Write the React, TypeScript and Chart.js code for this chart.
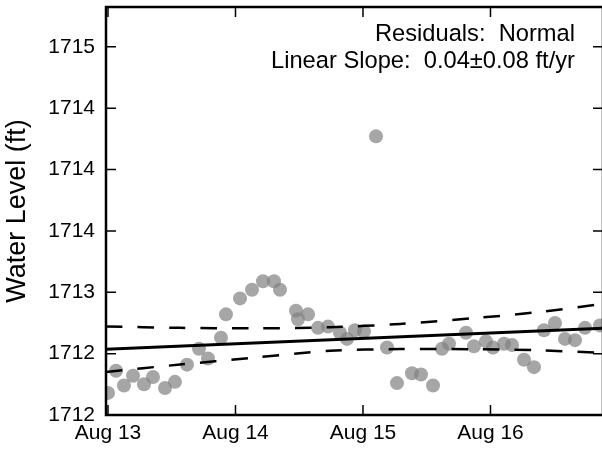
import React, { useEffect, useRef } from "react";
import { Chart, registerables } from "chart.js";

Chart.register(...registerables);

// Hours since Aug 13 00:00
const obsHours = [
  0.0, 1.51, 3.01, 4.71, 6.78, 8.47, 10.73, 12.61, 14.87, 17.13, 18.82, 21.27, 22.21,
  24.85, 27.11, 29.18, 31.25, 32.38, 35.39, 35.76, 37.65, 39.53, 41.41, 43.67, 44.99,
  46.49, 48.19, 50.45, 52.52, 54.4, 57.22, 58.92, 61.18, 62.87, 64.19, 67.39, 68.89,
  71.15, 72.47, 74.54, 76.05, 78.31, 80.19, 82.07, 84.14, 86.02, 87.91, 89.79, 92.61,
];
const obsLevels = [
  1712.18, 1712.36, 1712.24, 1712.32, 1712.25, 1712.31, 1712.22, 1712.27, 1712.41, 1712.54,
  1712.46, 1712.63, 1712.82, 1712.95, 1713.02, 1713.09, 1713.09, 1713.02, 1712.85, 1712.78,
  1712.82, 1712.71, 1712.72, 1712.67, 1712.62, 1712.69, 1712.68, 1714.27, 1712.55, 1712.26,
  1712.34, 1712.33, 1712.24, 1712.54, 1712.58, 1712.67, 1712.56, 1712.6, 1712.55, 1712.58,
  1712.57, 1712.45, 1712.39, 1712.69, 1712.75, 1712.62, 1712.61, 1712.71, 1712.73,
];

const fitHours = [-0.38, 93.18];
const fitLevels = [1712.535, 1712.706];

const bandHours = [-0.38, 13.55, 26.73, 41.79, 54.97, 70.02, 81.32, 93.18];
const bandUpper = [1712.722, 1712.71, 1712.706, 1712.715, 1712.742, 1712.793, 1712.84, 1712.905];
const bandLower = [1712.351, 1712.411, 1712.464, 1712.523, 1712.537, 1712.535, 1712.527, 1712.505];

const xTickLabels = ["Aug 13", "Aug 14", "Aug 15", "Aug 16"];
const yTickLabels = ["1712", "1712", "1713", "1714", "1714", "1714", "1715"];

const annotationLines = ["Residuals:  Normal", "Linear Slope:  0.04\u00b10.08 ft/yr"];

const FONT = '"Liberation Sans", Arial, sans-serif';

const zip = (xs: number[], ys: number[]) => xs.map((x, i) => ({ x, y: ys[i] }));

export default function App() {
  const canvasRef = useRef<HTMLCanvasElement | null>(null);

  useEffect(() => {
    const canvas = canvasRef.current;
    if (!canvas) return;

    const framePlugin = {
      id: "frameTicks",
      afterDatasetsDraw(chart: any) {
        const { ctx, chartArea } = chart;
        const { left, right, top, bottom } = chartArea;
        const xs = chart.scales.x;
        const ys = chart.scales.y;
        ctx.save();
        ctx.strokeStyle = "#000";
        ctx.lineWidth = 1.5;
        const tl = 10;
        ctx.beginPath();
        xs.ticks.forEach((t: any) => {
          const px = xs.getPixelForValue(t.value);
          ctx.moveTo(px, bottom);
          ctx.lineTo(px, bottom - tl);
          ctx.moveTo(px, top);
          ctx.lineTo(px, top + tl);
        });
        ys.ticks.forEach((t: any) => {
          const py = ys.getPixelForValue(t.value);
          ctx.moveTo(left, py);
          ctx.lineTo(left + tl, py);
          ctx.moveTo(right, py);
          ctx.lineTo(right - tl, py);
        });
        ctx.stroke();
        ctx.lineWidth = 2.5;
        ctx.strokeRect(left, top, right - left, bottom - top);

        ctx.fillStyle = "#000";
        ctx.font = `23.7px ${FONT}`;
        ctx.textAlign = "right";
        ctx.textBaseline = "alphabetic";
        ctx.fillText(annotationLines[0], 575, 41);
        ctx.fillText(annotationLines[1], 575, 68);
        ctx.restore();
      },
    };

    const zeroPad = (s: any) => {
      s.paddingTop = 0;
      s.paddingBottom = 0;
      s.paddingLeft = 0;
      s.paddingRight = 0;
    };

    const chart = new Chart(canvas, {
      type: "scatter",
      data: {
        datasets: [
          {
            data: zip(fitHours, fitLevels),
            showLine: true,
            borderColor: "#000",
            borderWidth: 3,
            pointRadius: 0,
            clip: 0,
          } as any,
          {
            data: zip(bandHours, bandUpper),
            showLine: true,
            borderColor: "#000",
            borderWidth: 2.5,
            borderDash: [16.5, 15],
            tension: 0.3,
            pointRadius: 0,
            clip: 0,
          },
          {
            data: zip(bandHours, bandLower),
            showLine: true,
            borderColor: "#000",
            borderWidth: 2.5,
            borderDash: [16.5, 15],
            tension: 0.3,
            pointRadius: 0,
            clip: 0,
          },
          {
            data: zip(obsHours, obsLevels),
            pointRadius: 7,
            pointBackgroundColor: "rgba(128,128,128,0.7)",
            pointBorderWidth: 0,
            clip: 0,
          },
        ],
      },
      options: {
        animation: false,
        responsive: false,
        devicePixelRatio: 1,
        layout: { padding: { top: 5, right: 7, bottom: 0, left: 0 } },
        plugins: { legend: { display: false }, tooltip: { enabled: false } },
        scales: {
          x: {
            type: "linear",
            min: -0.376,
            max: 93.18,
            grid: { display: false, drawTicks: false },
            border: { display: false },
            afterFit: (s: any) => {
              s.height = 35;
              zeroPad(s);
            },
            ticks: {
              stepSize: 24,
              includeBounds: false,
              padding: 6,
              color: "#000",
              font: { family: FONT, size: 21 },
              maxRotation: 0,
              autoSkip: false,
              callback: (v: any) => xTickLabels[Math.round(Number(v) / 24)] ?? "",
            },
          },
          y: {
            type: "linear",
            min: 1712,
            max: 1715.324,
            grid: { display: false, drawTicks: false },
            border: { display: false },
            afterFit: (s: any) => {
              s.width = 106;
              zeroPad(s);
            },
            title: {
              display: true,
              text: "Water Level (ft)",
              color: "#000",
              font: { family: FONT, size: 27 },
              padding: { top: 1, bottom: 0 },
            },
            ticks: {
              stepSize: 0.5,
              includeBounds: false,
              padding: 11,
              color: "#000",
              font: { family: FONT, size: 21 },
              autoSkip: false,
              callback: (v: any) => yTickLabels[Math.round((Number(v) - 1712) / 0.5)] ?? "",
            },
          },
        },
      },
      plugins: [framePlugin],
    });

    return () => chart.destroy();
  }, []);

  return (
    <div
      style={{
        position: "absolute",
        left: 0,
        top: 0,
        width: 602,
        height: 450,
        overflow: "hidden",
        background: "#fff",
      }}
    >
      <canvas ref={canvasRef} width={610} height={450} style={{ display: "block" }} />
    </div>
  );
}
